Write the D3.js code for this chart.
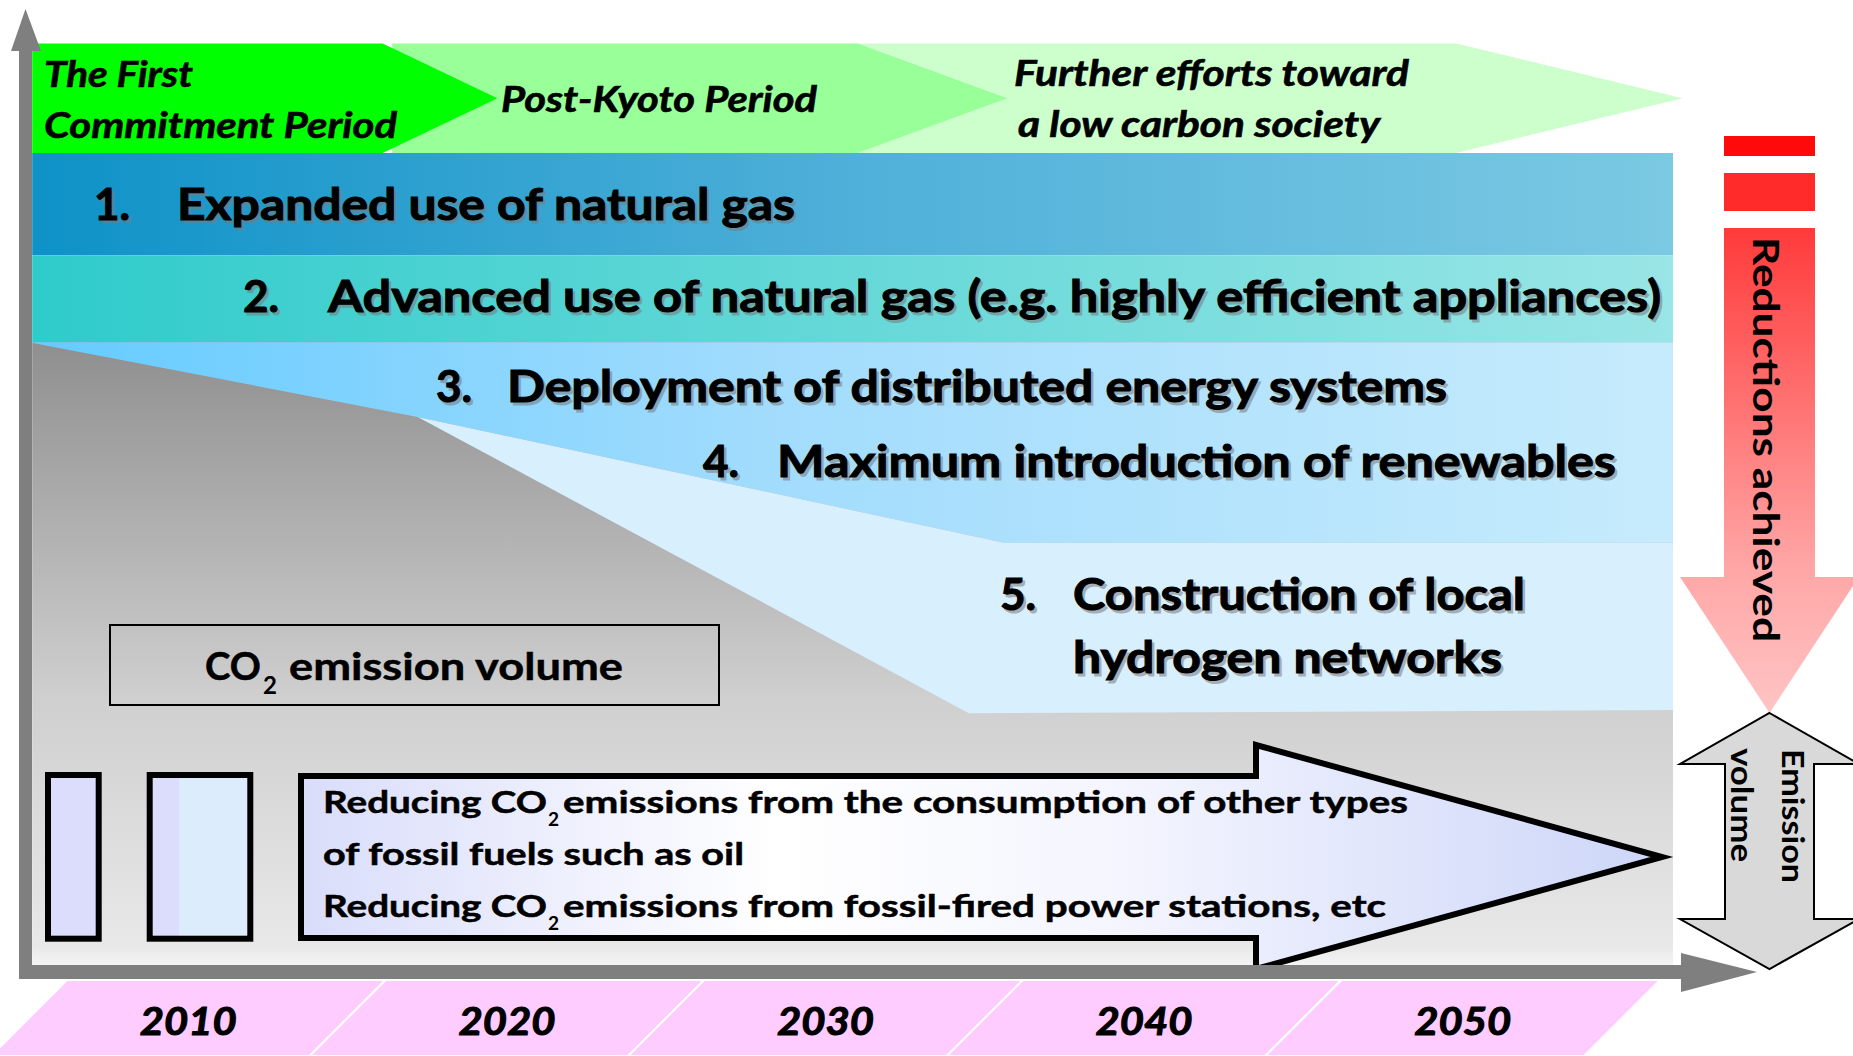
<!DOCTYPE html>
<html>
<head>
<meta charset="utf-8">
<script src="https://cdn.jsdelivr.net/npm/d3@7"></script>
<style>
  html, body { margin: 0; padding: 0; background: #fff; overflow: hidden; }
  text { font-family: Lato, "Open Sans", sans-serif; }
</style>
</head>
<body>
<div id="chart"></div>
<script>
(function () {

// ---- data ----
var years = [2010, 2020, 2030, 2040, 2050]
var yearBounds = [2005, 2015, 2025, 2035, 2045, 2055]

var periodNames = [['The First', 'Commitment Period'], ['Post-Kyoto Period'], ['Further efforts toward', 'a low carbon society']]
var periodStart = [2005.1, 2016.4, 2030.9]
var periodFlat = [2016.1, 2031.0, 2049.8]
var periodTip = [2019.7, 2035.7, 2056.9]

var measureNums = ['1.', '2.', '3.', '4.', '5.']
var measureLines = [
  ['Expanded use of natural gas'],
  ['Advanced use of natural gas (e.g. highly efficient appliances)'],
  ['Deployment of distributed energy systems'],
  ['Maximum introduction of renewables'],
  ['Construction of local', 'hydrogen networks']
]

// levels: 0 = time axis, 100 = top of measure 1 band
var bandTops = [100, 87.4]
var bandBottoms = [87.4, 76.7]
var emissionYears = [2005, 2017.2, 2034.5, 2056.6]
var emissionLevels = [76.7, 67.5, 31.0, 31.4]
var renewYears = [2017.2, 2035.6, 2056.6]
var renewLevels = [67.5, 52.0, 52.0]
var lastYear = 2056.6

var W = 1853, H = 1056

var svg = d3.select('#chart').append('svg')
  .attr('width', W)
  .attr('height', H)
var defs = svg.append('defs')

var x = d3.scaleLinear().domain([2005, 2055]).range([29, 1622])
var y = d3.scaleLinear().domain([0, 100]).range([965, 153])

function grad(id, stops, vertical) {
  var g = defs.append('linearGradient').attr('id', id)
    .attr('x1', 0).attr('y1', 0)
    .attr('x2', vertical ? 0 : 1).attr('y2', vertical ? 1 : 0)
  stops.forEach(function (s) {
    g.append('stop').attr('offset', s[0]).attr('stop-color', s[1])
  })
}
grad('g-band1', [[0, '#0e92c7'], [0.5, '#4fb0d9'], [1, '#7bc9e3']])
grad('g-band2', [[0, '#2fcbcb'], [0.5, '#66d8d8'], [1, '#9ae5e6']])
grad('g-band3', [[0, '#64cbff'], [0.45, '#a2dcfd'], [1, '#c6ebfc']])
grad('g-grey', [[0, '#8f8f8f'], [0.57, '#cfcfcf'], [0.97, '#e8e8e8'], [1, '#f4f4f4']], true)
grad('g-arrow', [[0, '#d9ddfa'], [0.35, '#ffffff'], [0.6, '#f4f5fe'], [1, '#cdd6f8']])
grad('g-red', [[0, '#ff3a3a'], [0.7, '#ffa6a6'], [1, '#ffc4c4']], true)
grad('g-boxB', [[0, '#dcdcfc'], [0.29, '#dcdcfc'], [0.29, '#dcecfc'], [1, '#dcecfc']])

function addText(parent, str, px, py, o) {
  o = o || {}
  var t = parent.append('text')
    .attr('x', px)
    .attr('y', py)
    .attr('font-size', o.size || 44)
    .attr('font-weight', 'bold')
    .attr('font-style', o.italic ? 'italic' : 'normal')
    .attr('fill', o.fill || '#000')
    .text(str)
  if (o.heavy) t.attr('stroke', o.fill || '#000').attr('stroke-width', o.heavy)
  if (o.len) t.attr('textLength', o.len).attr('lengthAdjust', 'spacingAndGlyphs')
  if (o.anchor) t.attr('text-anchor', o.anchor)
  if (o.family) t.attr('font-family', o.family)
  if (o.rotate) t.attr('transform', 'rotate(90,' + px + ',' + py + ')')
  return t
}

function shadowed(parent, str, px, py, o) {
  addText(parent, str, px + 2.5, py + 2.5, Object.assign({}, o, { fill: '#7a7a7a' }))
    .attr('opacity', 0.55)
  return addText(parent, str, px, py, o)
}

// ---- year strip along the bottom ----
var strip = svg.append('g')
yearBounds.slice(0, -1).forEach(function (b0, i) {
  var b1 = yearBounds[i + 1]
  strip.append('polygon')
    .attr('points', [[x(b0) + 38, 980], [x(b1) + 38, 980], [x(b1) - 38, 1056], [x(b0) - 38, 1056]].join(' '))
    .attr('fill', '#ffccff')
    .attr('stroke', '#fff')
    .attr('stroke-width', 2)
})
years.forEach(function (yr) {
  addText(strip, yr, x(yr), 1035, { size: 38, italic: true, anchor: 'middle', len: 97, heavy: 1 })
})

// ---- emission area and measure bands ----
var line = d3.line().x(function (d) { return x(d[0]) }).y(function (d) { return y(d[1]) })

svg.append('rect')
  .attr('x', x(2005.1))
  .attr('y', y(emissionLevels[0]))
  .attr('width', x(lastYear) - x(2005.1))
  .attr('height', y(0) - y(emissionLevels[0]))
  .attr('fill', 'url(#g-grey)')

bandTops.forEach(function (top, i) {
  svg.append('rect')
    .attr('x', x(2005.1))
    .attr('y', y(top))
    .attr('width', x(lastYear) - x(2005.1))
    .attr('height', y(bandBottoms[i]) - y(top))
    .attr('fill', 'url(#g-band' + (i + 1) + ')')
})

var band34 = [[2005, bandBottoms[1]], [lastYear, bandBottoms[1]], [lastYear, renewLevels[2]],
  [renewYears[1], renewLevels[1]], [renewYears[0], renewLevels[0]]]
svg.append('path').attr('d', line(band34) + 'Z').attr('fill', 'url(#g-band3)')

var band5 = [[renewYears[0], renewLevels[0]], [renewYears[1], renewLevels[1]], [lastYear, renewLevels[2]],
  [lastYear, emissionLevels[3]], [emissionYears[2], emissionLevels[2]]]
svg.append('path').attr('d', line(band5) + 'Z').attr('fill', '#d8effd')

// ---- commitment period chevrons ----
var periodColors = ['#00ff00', '#99ff99', '#ccffcc']
var cTop = y(113.5), cBot = y(100), cMid = (cTop + cBot) / 2
for (var p = 2; p >= 0; p--) {
  svg.append('polygon')
    .attr('points', [[x(periodStart[p]), cTop], [x(periodFlat[p]), cTop], [x(periodTip[p]), cMid],
      [x(periodFlat[p]), cBot], [x(periodStart[p]), cBot]].join(' '))
    .attr('fill', periodColors[p])
}
var periodLayout = [
  { xs: [44, 44], ys: [87, 138], lens: [149, 353] },
  { xs: [501], ys: [112], lens: [316] },
  { xs: [1014, 1018], ys: [86, 137], lens: [395, 362] }
]
periodNames.forEach(function (lines, i) {
  lines.forEach(function (s, j) {
    var L = periodLayout[i]
    addText(svg, s, L.xs[j], L.ys[j], { size: 36, italic: true, len: L.lens[j], heavy: 0.6 })
  })
})

// ---- measure labels ----
var measureLayout = [
  { nx: 94, tx: 177, by: 220, lens: [618] },
  { nx: 243, tx: 328, by: 312, lens: [1333] },
  { nx: 436, tx: 507, by: 402, lens: [940] },
  { nx: 703, tx: 777, by: 477, lens: [839] },
  { nx: 1000, tx: 1073, by: 610, lens: [452, 429] }
]
measureNums.forEach(function (n, i) {
  var L = measureLayout[i]
  shadowed(svg, n, L.nx, L.by, { size: 44, heavy: 1 })
  measureLines[i].forEach(function (s, j) {
    shadowed(svg, s, L.tx, L.by + j * 63, { size: 44, len: L.lens[j], heavy: 1 })
  })
})

// ---- CO2 emission volume box ----
svg.append('rect')
  .attr('x', 110).attr('y', 625).attr('width', 609).attr('height', 80)
  .attr('fill', 'none').attr('stroke', '#000').attr('stroke-width', 2)
addText(svg, 'CO', 205, 680, { size: 38, len: 56, heavy: 0.5 })
addText(svg, '2', 263, 694, { size: 24 })
addText(svg, 'emission volume', 289, 680, { size: 38, len: 334, heavy: 0.5 })

// ---- bottom boxes and the big arrow ----
svg.append('rect')
  .attr('x', 48).attr('y', 775).attr('width', 50.7).attr('height', 163.7)
  .attr('fill', '#dcdcfc').attr('stroke', '#000').attr('stroke-width', 6)
svg.append('rect')
  .attr('x', 149.7).attr('y', 775).attr('width', 100.6).attr('height', 163.7)
  .attr('fill', 'url(#g-boxB)').attr('stroke', '#000').attr('stroke-width', 6)

svg.append('path')
  .attr('d', 'M301,776 L1256,776 L1256,745 L1662,857 L1256,969 L1256,938 L301,938 Z')
  .attr('fill', 'url(#g-arrow)')
  .attr('stroke', '#000')
  .attr('stroke-width', 6)

var arrowText = { size: 31, heavy: 0.5 }
addText(svg, 'Reducing CO', 323, 813, Object.assign({ len: 224 }, arrowText))
addText(svg, '2', 548, 826, { size: 19 })
addText(svg, 'emissions from the consumption of other types', 563, 813, Object.assign({ len: 845 }, arrowText))
addText(svg, 'of fossil fuels such as oil', 323, 865, Object.assign({ len: 421 }, arrowText))
addText(svg, 'Reducing CO', 323, 917, Object.assign({ len: 224 }, arrowText))
addText(svg, '2', 548, 930, { size: 19 })
addText(svg, 'emissions from fossil-fired power stations, etc', 563, 917, Object.assign({ len: 823 }, arrowText))

// ---- axes ----
svg.append('rect').attr('x', 19).attr('y', 965).attr('width', 1662).attr('height', 14).attr('fill', '#7f7f7f')
svg.append('polygon').attr('points', '1681,953 1757,972 1681,992').attr('fill', '#7f7f7f')
svg.append('rect').attr('x', 19).attr('y', 51).attr('width', 13).attr('height', 928).attr('fill', '#7f7f7f')
svg.append('polygon').attr('points', '11,51 25.5,9 41,51').attr('fill', '#7f7f7f')

// ---- reductions achieved arrow ----
svg.append('rect').attr('x', 1724).attr('y', 136).attr('width', 91).attr('height', 20).attr('fill', '#ff0a0a')
svg.append('rect').attr('x', 1724).attr('y', 173).attr('width', 91).attr('height', 38).attr('fill', '#ff2b2b')
svg.append('path')
  .attr('d', 'M1724,228 L1815,228 L1815,577 L1859,577 L1769.5,713 L1680,577 L1724,577 Z')
  .attr('fill', 'url(#g-red)')
addText(svg, 'Reductions achieved', 1753, 237, { size: 37, family: 'DejaVu Sans', len: 405, rotate: true })

// ---- emission volume double arrow ----
svg.append('path')
  .attr('d', 'M1769.5,713 L1859,764 L1814,764 L1814,919 L1859,919 L1769.5,969 L1680,919 L1725,919 L1725,764 L1680,764 Z')
  .attr('fill', '#d9d9d9')
  .attr('stroke', '#000')
  .attr('stroke-width', 2)
addText(svg, 'Emission', 1782, 749, { size: 31, family: 'DejaVu Sans', len: 134, rotate: true })
addText(svg, 'volume', 1731, 748, { size: 31, family: 'DejaVu Sans', len: 114, rotate: true })

})()
</script>
</body>
</html>
